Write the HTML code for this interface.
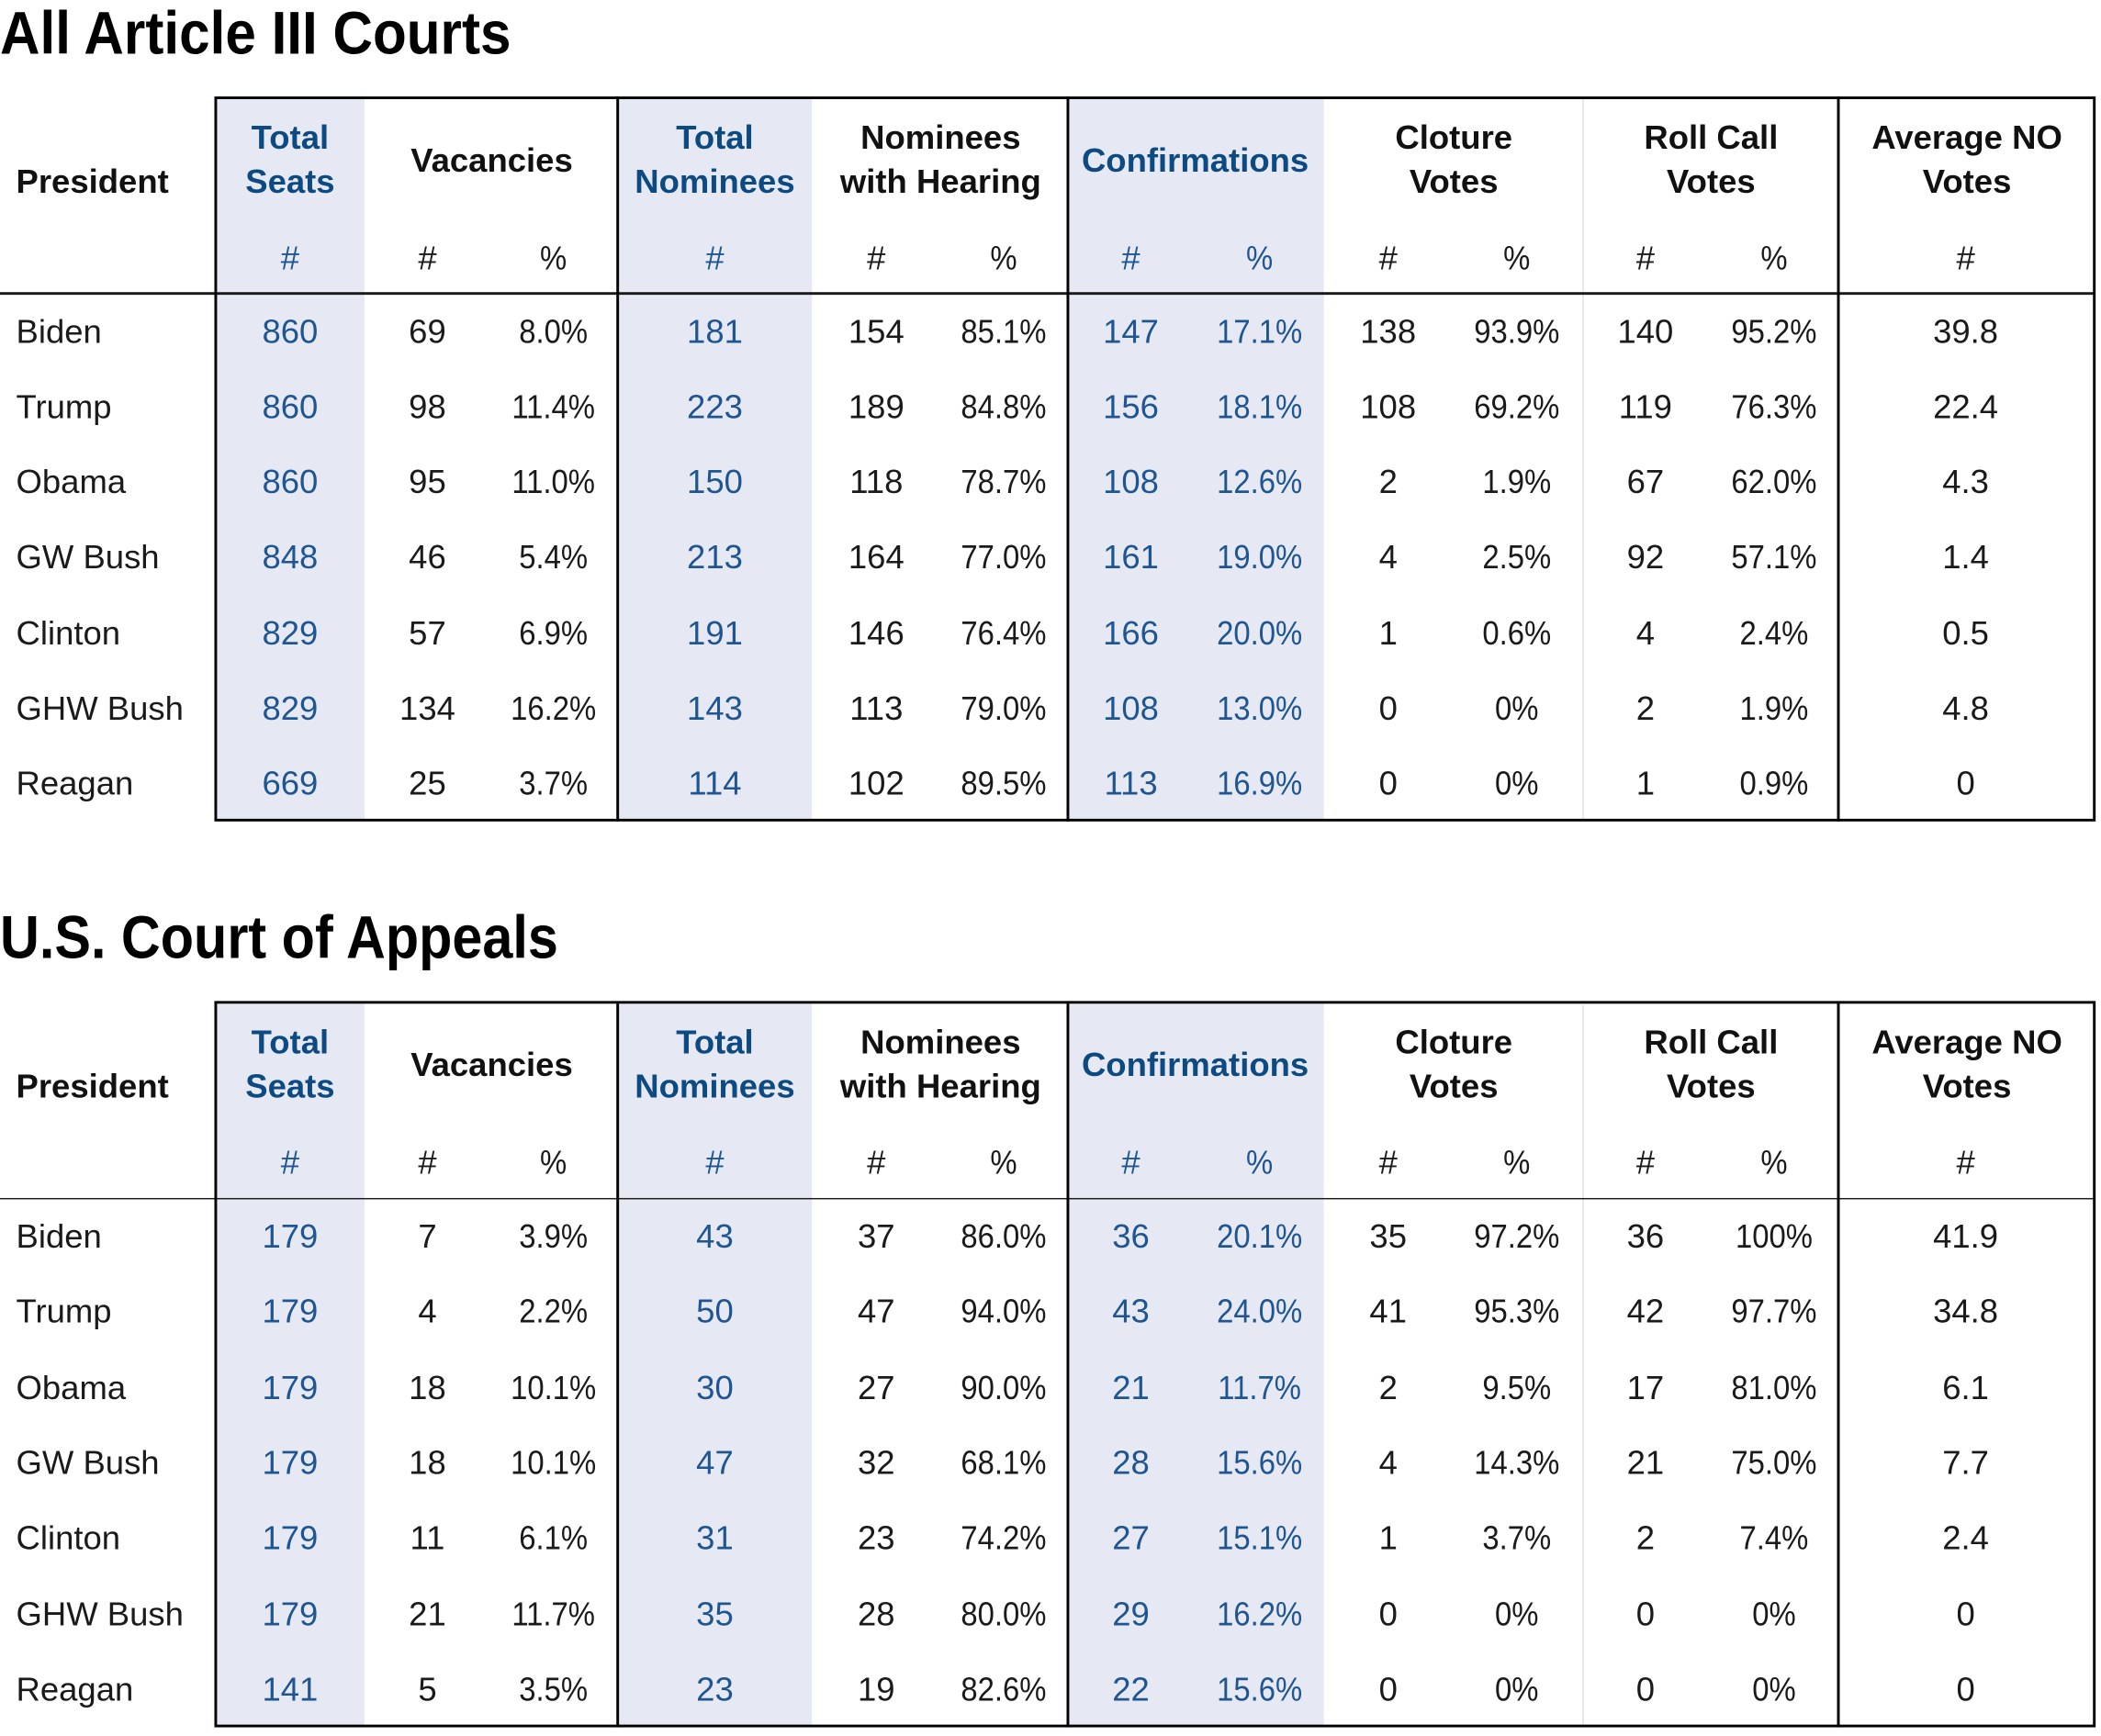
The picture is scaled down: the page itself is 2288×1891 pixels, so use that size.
<!DOCTYPE html>
<html>
<head>
<meta charset="utf-8">
<style>
html,body{margin:0;padding:0;background:#fff;}
body{width:2288px;height:1883px;overflow:hidden;position:relative;}
#w{position:absolute;left:0;top:0;width:1568px;height:1290px;transform:scale(1.45918,1.45969);transform-origin:0 0;}
.tb{position:absolute;left:0;width:1568px;height:620px;}
.title{position:absolute;left:0;top:1.9px;font-family:"Liberation Sans",sans-serif;font-weight:bold;font-size:45px;line-height:45px;color:#000;white-space:nowrap;transform-origin:0 0;}
.shade{position:absolute;top:73px;height:539px;background:#e6e9f3;}
.frame{position:absolute;left:159.6px;top:71.6px;width:1404.8px;height:541.8px;border:2.75px solid #000;box-sizing:border-box;}
.vl{position:absolute;top:72px;height:541px;width:2.75px;background:#000;}
.fl{position:absolute;top:74px;height:537px;width:1px;background:#e2e2e2;left:1181px;}
.hl{position:absolute;left:0;top:218.3px;width:1563px;height:1.4px;background:#1a1a1a;}
.row{position:absolute;left:0;width:1568px;height:25px;}
.row span{position:absolute;top:0;width:120px;text-align:center;font-family:"Liberation Sans",sans-serif;font-size:25px;line-height:25px;color:#1a1a1a;white-space:nowrap;}
.row span.n{left:12px;width:200px;text-align:left;}
.c1{left:156.5px}.c2{left:259px}.c3{left:353px}.c4{left:473.5px}.c5{left:594px}.c6{left:689px}
.c7{left:784px}.c8{left:880px}.c9{left:976px}.c10{left:1072px}.c11{left:1168px}.c12{left:1264px}.c13{left:1407px}
.row span.c3,.row span.c6,.row span.c8,.row span.c10,.row span.c12{transform:scaleX(0.9);}
.row span.c1,.row span.c4,.row span.c7,.row span.c8{color:#1f5591;}
.h{position:absolute;width:240px;text-align:center;font-family:"Liberation Sans",sans-serif;font-weight:bold;font-size:25px;line-height:33px;color:#111;white-space:nowrap;}
.hb{color:#0d4a82;}
.pres{position:absolute;left:12px;top:119.5px;font-family:"Liberation Sans",sans-serif;font-weight:bold;font-size:25px;line-height:33px;color:#111;}
</style>
</head>
<body>
<div id="w">

<!-- TABLE 1 -->
<div class="tb" style="top:0px;">
  <div class="title" style="transform:scaleX(0.917);">All Article III Courts</div>
  <div class="shade" style="left:161px;width:111px;"></div>
  <div class="shade" style="left:461px;width:145px;"></div>
  <div class="shade" style="left:797px;width:191px;"></div>
  <div class="fl"></div>
  <div class="hl"></div>
  <div class="frame"></div>
  <div class="vl" style="left:459.6px;"></div>
  <div class="vl" style="left:795.6px;"></div>
  <div class="vl" style="left:1370.6px;"></div>

  <div class="pres">President</div>
  <div class="h hb" style="left:96.5px;top:86.8px;">Total<br>Seats</div>
  <div class="h" style="left:247px;top:103.5px;">Vacancies</div>
  <div class="h hb" style="left:413.5px;top:86.8px;">Total<br>Nominees</div>
  <div class="h" style="left:582px;top:86.8px;">Nominees<br>with Hearing</div>
  <div class="h hb" style="left:772px;top:103.5px;">Confirmations</div>
  <div class="h" style="left:965px;top:86.8px;">Cloture<br>Votes</div>
  <div class="h" style="left:1157px;top:86.8px;">Roll Call<br>Votes</div>
  <div class="h" style="left:1348px;top:86.8px;">Average NO<br>Votes</div>

  <div class="row" style="top:180.5px;"><span class="c1">#</span><span class="c2">#</span><span class="c3">%</span><span class="c4">#</span><span class="c5">#</span><span class="c6">%</span><span class="c7">#</span><span class="c8">%</span><span class="c9">#</span><span class="c10">%</span><span class="c11">#</span><span class="c12">%</span><span class="c13">#</span></div>

  <div class="row" style="top:235.5px;"><span class="n">Biden</span><span class="c1">860</span><span class="c2">69</span><span class="c3">8.0%</span><span class="c4">181</span><span class="c5">154</span><span class="c6">85.1%</span><span class="c7">147</span><span class="c8">17.1%</span><span class="c9">138</span><span class="c10">93.9%</span><span class="c11">140</span><span class="c12">95.2%</span><span class="c13">39.8</span></div>
  <div class="row" style="top:291.8px;"><span class="n">Trump</span><span class="c1">860</span><span class="c2">98</span><span class="c3">11.4%</span><span class="c4">223</span><span class="c5">189</span><span class="c6">84.8%</span><span class="c7">156</span><span class="c8">18.1%</span><span class="c9">108</span><span class="c10">69.2%</span><span class="c11">119</span><span class="c12">76.3%</span><span class="c13">22.4</span></div>
  <div class="row" style="top:348.1px;"><span class="n">Obama</span><span class="c1">860</span><span class="c2">95</span><span class="c3">11.0%</span><span class="c4">150</span><span class="c5">118</span><span class="c6">78.7%</span><span class="c7">108</span><span class="c8">12.6%</span><span class="c9">2</span><span class="c10">1.9%</span><span class="c11">67</span><span class="c12">62.0%</span><span class="c13">4.3</span></div>
  <div class="row" style="top:404.4px;"><span class="n">GW Bush</span><span class="c1">848</span><span class="c2">46</span><span class="c3">5.4%</span><span class="c4">213</span><span class="c5">164</span><span class="c6">77.0%</span><span class="c7">161</span><span class="c8">19.0%</span><span class="c9">4</span><span class="c10">2.5%</span><span class="c11">92</span><span class="c12">57.1%</span><span class="c13">1.4</span></div>
  <div class="row" style="top:460.7px;"><span class="n">Clinton</span><span class="c1">829</span><span class="c2">57</span><span class="c3">6.9%</span><span class="c4">191</span><span class="c5">146</span><span class="c6">76.4%</span><span class="c7">166</span><span class="c8">20.0%</span><span class="c9">1</span><span class="c10">0.6%</span><span class="c11">4</span><span class="c12">2.4%</span><span class="c13">0.5</span></div>
  <div class="row" style="top:517px;"><span class="n">GHW Bush</span><span class="c1">829</span><span class="c2">134</span><span class="c3">16.2%</span><span class="c4">143</span><span class="c5">113</span><span class="c6">79.0%</span><span class="c7">108</span><span class="c8">13.0%</span><span class="c9">0</span><span class="c10">0%</span><span class="c11">2</span><span class="c12">1.9%</span><span class="c13">4.8</span></div>
  <div class="row" style="top:573.3px;"><span class="n">Reagan</span><span class="c1">669</span><span class="c2">25</span><span class="c3">3.7%</span><span class="c4">114</span><span class="c5">102</span><span class="c6">89.5%</span><span class="c7">113</span><span class="c8">16.9%</span><span class="c9">0</span><span class="c10">0%</span><span class="c11">1</span><span class="c12">0.9%</span><span class="c13">0</span></div>
</div>

<!-- TABLE 2 -->
<div class="tb" style="top:675.5px;">
  <div class="title" style="transform:scaleX(0.904);">U.S. Court of Appeals</div>
  <div class="shade" style="left:161px;width:111px;"></div>
  <div class="shade" style="left:461px;width:145px;"></div>
  <div class="shade" style="left:797px;width:191px;"></div>
  <div class="fl"></div>
  <div class="hl"></div>
  <div class="frame"></div>
  <div class="vl" style="left:459.6px;"></div>
  <div class="vl" style="left:795.6px;"></div>
  <div class="vl" style="left:1370.6px;"></div>

  <div class="pres">President</div>
  <div class="h hb" style="left:96.5px;top:86.8px;">Total<br>Seats</div>
  <div class="h" style="left:247px;top:103.5px;">Vacancies</div>
  <div class="h hb" style="left:413.5px;top:86.8px;">Total<br>Nominees</div>
  <div class="h" style="left:582px;top:86.8px;">Nominees<br>with Hearing</div>
  <div class="h hb" style="left:772px;top:103.5px;">Confirmations</div>
  <div class="h" style="left:965px;top:86.8px;">Cloture<br>Votes</div>
  <div class="h" style="left:1157px;top:86.8px;">Roll Call<br>Votes</div>
  <div class="h" style="left:1348px;top:86.8px;">Average NO<br>Votes</div>

  <div class="row" style="top:180.5px;"><span class="c1">#</span><span class="c2">#</span><span class="c3">%</span><span class="c4">#</span><span class="c5">#</span><span class="c6">%</span><span class="c7">#</span><span class="c8">%</span><span class="c9">#</span><span class="c10">%</span><span class="c11">#</span><span class="c12">%</span><span class="c13">#</span></div>

  <div class="row" style="top:235.5px;"><span class="n">Biden</span><span class="c1">179</span><span class="c2">7</span><span class="c3">3.9%</span><span class="c4">43</span><span class="c5">37</span><span class="c6">86.0%</span><span class="c7">36</span><span class="c8">20.1%</span><span class="c9">35</span><span class="c10">97.2%</span><span class="c11">36</span><span class="c12">100%</span><span class="c13">41.9</span></div>
  <div class="row" style="top:291.8px;"><span class="n">Trump</span><span class="c1">179</span><span class="c2">4</span><span class="c3">2.2%</span><span class="c4">50</span><span class="c5">47</span><span class="c6">94.0%</span><span class="c7">43</span><span class="c8">24.0%</span><span class="c9">41</span><span class="c10">95.3%</span><span class="c11">42</span><span class="c12">97.7%</span><span class="c13">34.8</span></div>
  <div class="row" style="top:348.1px;"><span class="n">Obama</span><span class="c1">179</span><span class="c2">18</span><span class="c3">10.1%</span><span class="c4">30</span><span class="c5">27</span><span class="c6">90.0%</span><span class="c7">21</span><span class="c8">11.7%</span><span class="c9">2</span><span class="c10">9.5%</span><span class="c11">17</span><span class="c12">81.0%</span><span class="c13">6.1</span></div>
  <div class="row" style="top:404.4px;"><span class="n">GW Bush</span><span class="c1">179</span><span class="c2">18</span><span class="c3">10.1%</span><span class="c4">47</span><span class="c5">32</span><span class="c6">68.1%</span><span class="c7">28</span><span class="c8">15.6%</span><span class="c9">4</span><span class="c10">14.3%</span><span class="c11">21</span><span class="c12">75.0%</span><span class="c13">7.7</span></div>
  <div class="row" style="top:460.7px;"><span class="n">Clinton</span><span class="c1">179</span><span class="c2">11</span><span class="c3">6.1%</span><span class="c4">31</span><span class="c5">23</span><span class="c6">74.2%</span><span class="c7">27</span><span class="c8">15.1%</span><span class="c9">1</span><span class="c10">3.7%</span><span class="c11">2</span><span class="c12">7.4%</span><span class="c13">2.4</span></div>
  <div class="row" style="top:517px;"><span class="n">GHW Bush</span><span class="c1">179</span><span class="c2">21</span><span class="c3">11.7%</span><span class="c4">35</span><span class="c5">28</span><span class="c6">80.0%</span><span class="c7">29</span><span class="c8">16.2%</span><span class="c9">0</span><span class="c10">0%</span><span class="c11">0</span><span class="c12">0%</span><span class="c13">0</span></div>
  <div class="row" style="top:573.3px;"><span class="n">Reagan</span><span class="c1">141</span><span class="c2">5</span><span class="c3">3.5%</span><span class="c4">23</span><span class="c5">19</span><span class="c6">82.6%</span><span class="c7">22</span><span class="c8">15.6%</span><span class="c9">0</span><span class="c10">0%</span><span class="c11">0</span><span class="c12">0%</span><span class="c13">0</span></div>
</div>

</div>
</body>
</html>
